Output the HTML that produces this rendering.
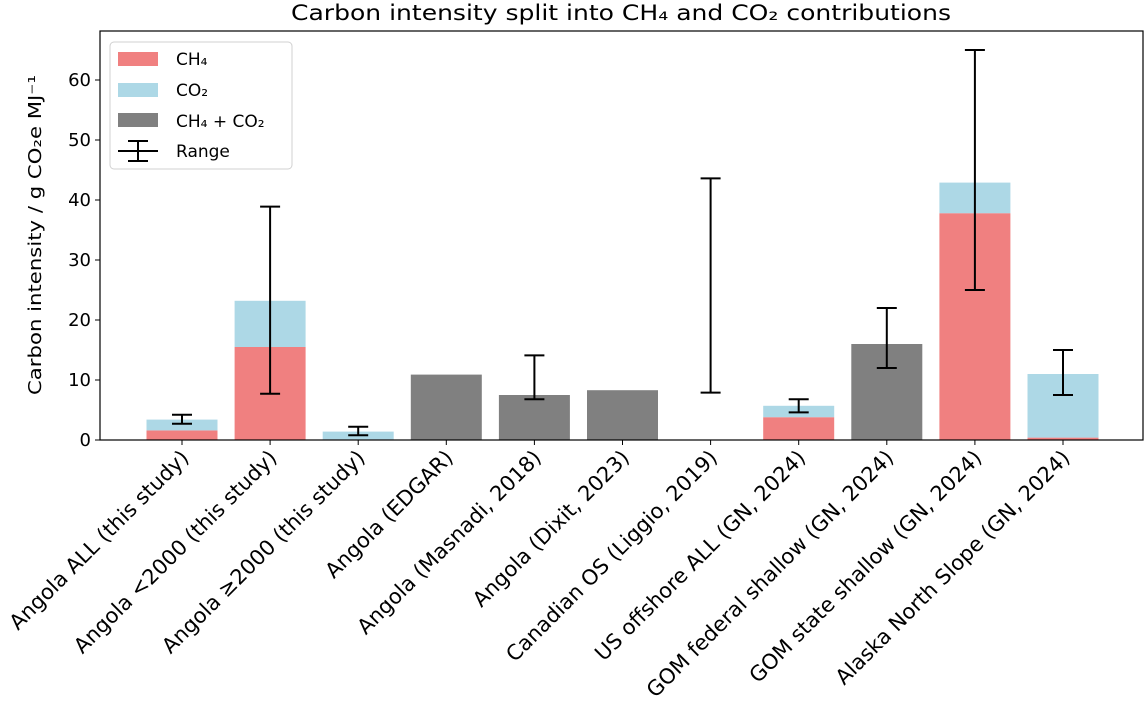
<!DOCTYPE html>
<html><head><meta charset="utf-8"><style>
body{margin:0;background:#fff;}
svg{display:block;font-family:"DejaVu Sans","Liberation Sans",sans-serif;}
</style></head><body>
<svg id="chart" width="1145" height="701">
<text x="621" y="20" text-anchor="middle" font-size="21" textLength="660" lengthAdjust="spacingAndGlyphs">Carbon intensity split into CH₄ and CO₂ contributions</text>
<text transform="translate(41,235) rotate(-90)" text-anchor="middle" font-size="18" textLength="320" lengthAdjust="spacingAndGlyphs">Carbon intensity / g CO₂e MJ⁻¹</text>
<g id="marks"></g>
<rect x="100" y="31" width="1043" height="409" fill="none" stroke="#000" stroke-width="1.2"/>
<g>
<rect x="110" y="42" width="182" height="127" rx="4" fill="#fff" stroke="#ccc" opacity="0.9"/>
<rect x="118" y="52" width="40" height="14" fill="#f08080"/>
<text x="176" y="65" font-size="17">CH₄</text>
<rect x="118" y="83" width="40" height="14" fill="#add8e6"/>
<text x="176" y="96" font-size="17">CO₂</text>
<rect x="118" y="113" width="40" height="14" fill="#808080"/>
<text x="176" y="127" font-size="17">CH₄ + CO₂</text>
<line x1="118" y1="151" x2="158" y2="151" stroke="#000" stroke-width="2"/>
<line x1="138" y1="141" x2="138" y2="161" stroke="#000" stroke-width="2"/>
<line x1="128" y1="141" x2="148" y2="141" stroke="#000" stroke-width="2"/>
<line x1="128" y1="161" x2="148" y2="161" stroke="#000" stroke-width="2"/>
<text x="176" y="157" font-size="17">Range</text>
</g>
</svg>
<script>
const categories=["Angola ALL (this study)","Angola <2000 (this study)","Angola ≥2000 (this study)","Angola (EDGAR)","Angola (Masnadi, 2018)","Angola (Dixit, 2023)","Canadian OS (Liggio, 2019)","US offshore ALL (GN, 2024)","GOM federal shallow (GN, 2024)","GOM state shallow (GN, 2024)","Alaska North Slope (GN, 2024)"];
const ch4=[1.6,15.5,0.1,null,null,null,null,3.8,null,37.8,0.4];
const co2=[1.8,7.7,1.3,null,null,null,null,1.9,null,5.1,10.6];
const combined=[null,null,null,10.9,7.5,8.3,null,null,16.0,null,null];
const rangeLow=[2.7,7.7,0.8,null,6.8,null,7.9,4.6,12.0,25.0,7.5];
const rangeHigh=[4.2,38.9,2.2,null,14.1,null,43.6,6.8,22.0,65.0,15.0];
const yTicks=[0,10,20,30,40,50,60];
const NS="http://www.w3.org/2000/svg";
const svg=document.getElementById('chart'),g=document.getElementById('marks');
const xs=i=>182+i*88.1;
const ys=v=>440-v*6.0;
const bw=71;
function el(t,a){const e=document.createElementNS(NS,t);for(const k in a)e.setAttribute(k,a[k]);g.appendChild(e);return e;}
yTicks.forEach(t=>{
 const l=el('line',{x1:95,x2:100,y1:ys(t),y2:ys(t),stroke:'#000'});
 
 
 const tx=el('text',{x:91,y:ys(t)+6,'text-anchor':'end','font-size':18});
 
 
 tx.textContent=t;
});
categories.forEach((c,i)=>{
 const x=xs(i);
 if(ch4[i]!=null){
  const r=el('rect',{x:x-bw/2,y:ys(ch4[i]),width:bw,height:ys(0)-ys(ch4[i]),fill:'#f08080'});
  
  
  const r2=el('rect',{x:x-bw/2,y:ys(ch4[i]+co2[i]),width:bw,height:ys(ch4[i])-ys(ch4[i]+co2[i]),fill:'#add8e6'});
  
  
 }
 if(combined[i]!=null){
  const r=el('rect',{x:x-bw/2,y:ys(combined[i]),width:bw,height:ys(0)-ys(combined[i]),fill:'#808080'});
  
  
 }
 if(rangeLow[i]!=null){
  const a=ys(rangeLow[i]),b=ys(rangeHigh[i]);
  [[x,a,x,b],[x-10,a,x+10,a],[x-10,b,x+10,b]].forEach(p=>{
   const l=el('line',{x1:p[0],y1:p[1],x2:p[2],y2:p[3],stroke:'#000','stroke-width':2});
   
   
  });
 }
 const t=el('line',{x1:x,x2:x,y1:440,y2:445,stroke:'#000'});
 
 
 const tx=el('text',{'text-anchor':'end','font-size':21,transform:`translate(${x+8},${459}) rotate(-45)`});
 
 
 tx.textContent=c;
});
</script>
</body></html>
